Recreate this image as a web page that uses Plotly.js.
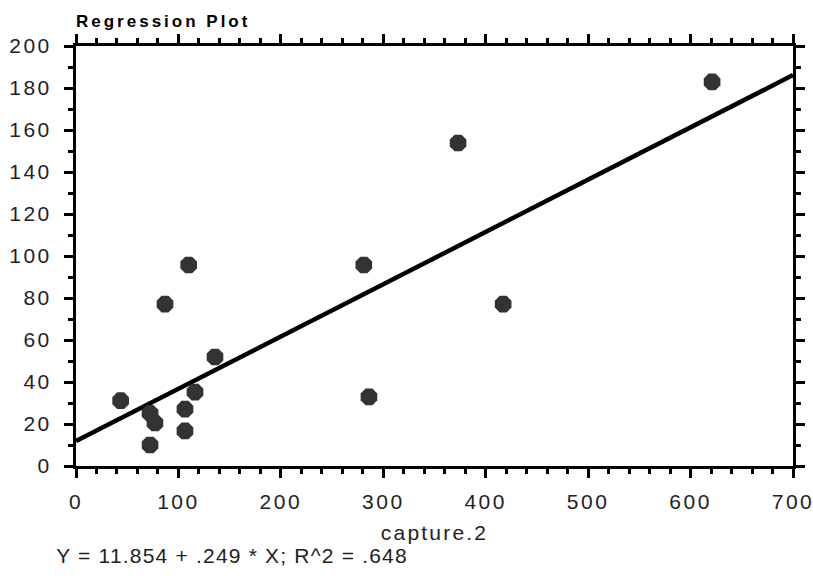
<!DOCTYPE html>
<html>
<head>
<meta charset="utf-8">
<script src="https://cdn.plot.ly/plotly-3.0.1.min.js"></script>
<style>
html,body{margin:0;padding:0;background:#fff;}
#chart{width:813px;height:578px;}
#chart g.xtick text, #chart g.ytick text { letter-spacing: 2.5px; }
#chart text.gtitle { letter-spacing: 3px; }
#chart text.xtitle { letter-spacing: 2.2px; }
#chart text.annotation-text { letter-spacing: 1.2px; }
</style>
</head>
<body>
<div id="chart"></div>
<script>
var captureX = [43.6, 72.3, 77.1, 72.3, 106.4, 106.4, 116.2, 135.7, 86.9, 110, 281, 286, 373, 417, 621];
var responseY = [31.1, 25.1, 20.5, 10, 27.1, 16.7, 35.2, 51.9, 77.1, 95.7, 95.7, 32.9, 153.8, 77.1, 182.9];
var intercept = 11.854;
var slope = 0.249;
var lineX = [0, 700];
var lineY = lineX.map(function (x) { return intercept + slope * x; });
var chartTitle = "Regression Plot";
var xTitle = "capture.2";
var equationText = "Y = 11.854 + .249 * X; R^2 = .648";

var font = "Liberation Sans, Arial, sans-serif";

var traces = [
  {
    x: lineX, y: lineY, mode: "lines", type: "scatter",
    line: {color: "#000", width: 4.5}, hoverinfo: "skip", showlegend: false
  },
  {
    x: captureX, y: responseY, mode: "markers", type: "scatter",
    marker: {symbol: "octagon", size: 18, color: "#333333", line: {width: 0}},
    showlegend: false, cliponaxis: false
  }
];

var axisCommon = {
  showline: true, linecolor: "#000", linewidth: 3, mirror: "allticks",
  ticks: "outside", ticklen: 9, tickwidth: 3, tickcolor: "#000",
  showgrid: false, zeroline: false,
  tickfont: {family: font, size: 21, color: "#222"}
};

var layout = {
  width: 813, height: 578,
  margin: {l: 76, r: 20, t: 46, b: 112},
  paper_bgcolor: "#fff", plot_bgcolor: "#fff",
  title: {text: "<b>" + chartTitle + "</b>", x: 0, xref: "paper", xanchor: "left",
    y: 1 - 21 / 578, yref: "container", yanchor: "middle",
    font: {family: font, size: 17, color: "#000"}},
  xaxis: Object.assign({}, axisCommon, {
    range: [0, 700], dtick: 100, tick0: 0,
    ticklabelstandoff: 6,
    minor: {dtick: 20, ticks: "outside", ticklen: 5, tickwidth: 3, tickcolor: "#000", showgrid: false},
    title: {text: xTitle, font: {family: font, size: 21, color: "#222"}, standoff: 14}
  }),
  yaxis: Object.assign({}, axisCommon, {
    range: [0, 200], dtick: 20, tick0: 0,
    ticklabelstandoff: 8,
    minor: {dtick: 10, ticks: "outside", ticklen: 5, tickwidth: 3, tickcolor: "#000", showgrid: false}
  }),
  annotations: [
    {text: equationText, xref: "paper", yref: "paper", x: -0.003, y: -0.212, xanchor: "left", yanchor: "middle",
     showarrow: false, font: {family: font, size: 21, color: "#222"}}
  ]
};

Plotly.newPlot("chart", traces, layout, {displayModeBar: false, staticPlot: true});
</script>
</body>
</html>
